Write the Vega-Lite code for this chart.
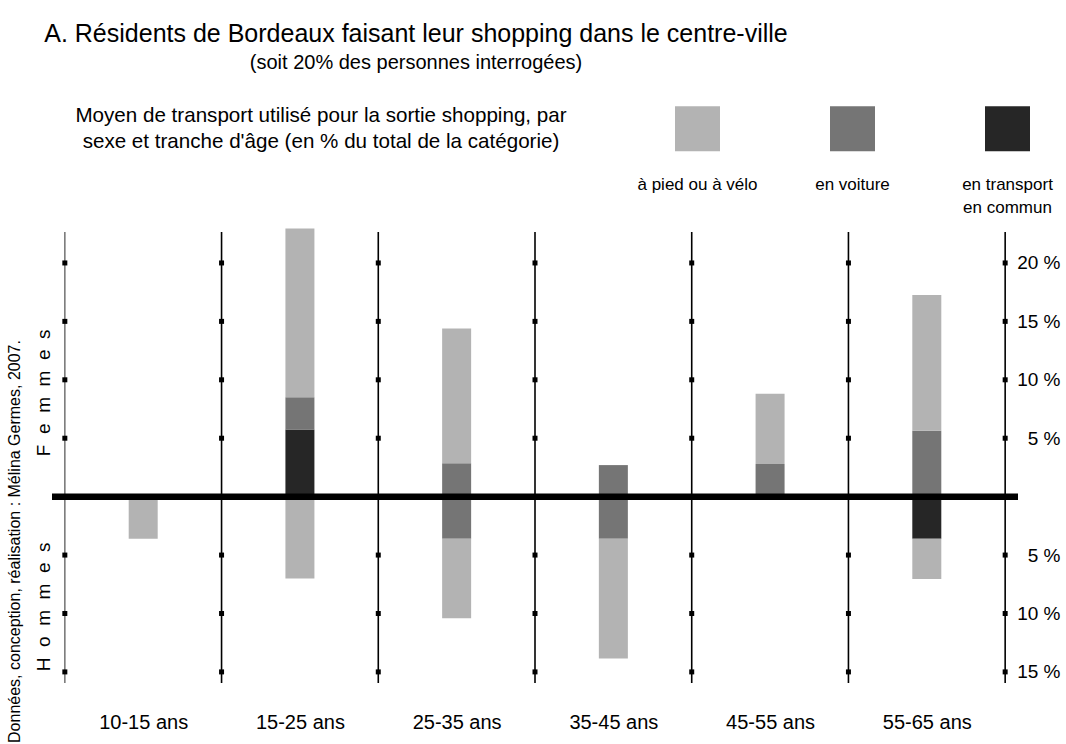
{
  "$schema": "https://vega.github.io/schema/vega-lite/v6.json",
  "width": 966,
  "height": 451,
  "autosize": {"type": "none"},
  "padding": {"left": 52, "top": 232, "right": 48, "bottom": 61},
  "background": "white",
  "config": {
    "font": "Liberation Sans",
    "view": {"stroke": null},
    "axis": {"labelColor": "black", "titleColor": "black", "labelFont": "Liberation Sans", "titleFont": "Liberation Sans"}
  },
  "title": {
    "text": "A. Résidents de Bordeaux faisant leur shopping dans le centre-ville",
    "subtitle": "(soit 20% des personnes interrogées)",
    "anchor": "middle",
    "frame": "group",
    "dx": -119,
    "offset": 33,
    "fontSize": 25,
    "fontWeight": "normal",
    "subtitleFontSize": 20,
    "subtitlePadding": 6,
    "color": "black",
    "subtitleColor": "black",
    "font": "Liberation Sans",
    "subtitleFont": "Liberation Sans"
  },
  "resolve": {"axis": {"x": "independent", "y": "independent"}},
  "datasets": {
    "bars": [
      {"age": "10-15 ans", "idx": 0, "sexe": "Hommes", "mode": "à pied ou à vélo", "pct": 3.6},
      {"age": "15-25 ans", "idx": 1, "sexe": "Femmes", "mode": "en transport en commun", "pct": 5.75},
      {"age": "15-25 ans", "idx": 1, "sexe": "Femmes", "mode": "en voiture", "pct": 2.75},
      {"age": "15-25 ans", "idx": 1, "sexe": "Femmes", "mode": "à pied ou à vélo", "pct": 14.45},
      {"age": "15-25 ans", "idx": 1, "sexe": "Hommes", "mode": "à pied ou à vélo", "pct": 7.0},
      {"age": "25-35 ans", "idx": 2, "sexe": "Femmes", "mode": "en voiture", "pct": 2.85},
      {"age": "25-35 ans", "idx": 2, "sexe": "Femmes", "mode": "à pied ou à vélo", "pct": 11.55},
      {"age": "25-35 ans", "idx": 2, "sexe": "Hommes", "mode": "en voiture", "pct": 3.6},
      {"age": "25-35 ans", "idx": 2, "sexe": "Hommes", "mode": "à pied ou à vélo", "pct": 6.8},
      {"age": "35-45 ans", "idx": 3, "sexe": "Femmes", "mode": "en voiture", "pct": 2.7},
      {"age": "35-45 ans", "idx": 3, "sexe": "Hommes", "mode": "en voiture", "pct": 3.6},
      {"age": "35-45 ans", "idx": 3, "sexe": "Hommes", "mode": "à pied ou à vélo", "pct": 10.25},
      {"age": "45-55 ans", "idx": 4, "sexe": "Femmes", "mode": "en voiture", "pct": 2.8},
      {"age": "45-55 ans", "idx": 4, "sexe": "Femmes", "mode": "à pied ou à vélo", "pct": 6.0},
      {"age": "55-65 ans", "idx": 5, "sexe": "Femmes", "mode": "en voiture", "pct": 5.65},
      {"age": "55-65 ans", "idx": 5, "sexe": "Femmes", "mode": "à pied ou à vélo", "pct": 11.6},
      {"age": "55-65 ans", "idx": 5, "sexe": "Hommes", "mode": "en transport en commun", "pct": 3.6},
      {"age": "55-65 ans", "idx": 5, "sexe": "Hommes", "mode": "à pied ou à vélo", "pct": 3.45}
    ],
    "lines": [{"b": 0}, {"b": 1}, {"b": 2}, {"b": 3}, {"b": 4}, {"b": 5}, {"b": 6}],
    "ticks": [
      {"level": 20, "b": [0, 1, 2, 3, 4, 5, 6]},
      {"level": 15, "b": [0, 1, 2, 3, 4, 5, 6]},
      {"level": 10, "b": [0, 1, 2, 3, 4, 5, 6]},
      {"level": 5, "b": [0, 1, 2, 3, 4, 5, 6]},
      {"level": -5, "b": [0, 1, 2, 3, 4, 5, 6]},
      {"level": -10, "b": [0, 1, 2, 3, 4, 5, 6]},
      {"level": -15, "b": [0, 1, 2, 3, 4, 5, 6]}
    ]
  },
  "layer": [
    {
      "data": {"name": "bars"},
      "transform": [
        {"calculate": "datum.idx + 0.5", "as": "pos"},
        {"calculate": "datum.sexe == 'Hommes' ? -datum.pct : datum.pct", "as": "val"},
        {"calculate": "indexof(['en transport en commun', 'en voiture', 'à pied ou à vélo'], datum.mode)", "as": "ord"}
      ],
      "mark": {"type": "bar", "width": 29},
      "encoding": {
        "x": {
          "field": "pos", "type": "quantitative",
          "scale": {"domain": [-0.05, 6.05], "nice": false, "zero": false},
          "axis": {
            "values": [0.5, 1.5, 2.5, 3.5, 4.5, 5.5],
            "labelExpr": "['10-15 ans', '15-25 ans', '25-35 ans', '35-45 ans', '45-55 ans', '55-65 ans'][floor(datum.value)]",
            "domain": false,
            "ticks": false,
            "tickSize": 0,
            "grid": false,
            "labelFontSize": 20,
            "labelPadding": 29,
            "labelFlush": false,
            "labelOverlap": false,
            "title": null
          }
        },
        "y": {
          "field": "val", "type": "quantitative", "stack": "zero",
          "scale": {"domain": [-15.95, 22.65], "nice": false},
          "axis": {
            "orient": "right",
            "values": [20, 15, 10, 5, -5, -10, -15],
            "labelExpr": "abs(datum.value) + ' %'",
            "domain": false,
            "ticks": false,
            "tickSize": 0,
            "grid": false,
            "labelFontSize": 19,
            "labelAlign": "right",
            "labelPadding": 42,
            "labelOverlap": false,
            "labelFlush": false,
            "title": null
          }
        },
        "order": {"field": "ord", "type": "quantitative"},
        "color": {
          "field": "mode", "type": "nominal",
          "scale": {"domain": ["à pied ou à vélo", "en voiture", "en transport en commun"], "range": ["#b3b3b3", "#757575", "#262626"]},
          "legend": {
            "orient": "none",
            "legendX": 23,
            "legendY": -126,
            "direction": "horizontal",
            "gridAlign": "all",
            "title": ["Moyen de transport utilisé pour la sortie shopping, par", "sexe et tranche d'âge (en % du total de la catégorie)"],
            "titleOrient": "left",
            "titleAnchor": "start",
            "titleBaseline": "top",
            "titleAlign": "center",
            "titleFontSize": 20.6,
            "titleFontWeight": "normal",
            "titleLineHeight": 26,
            "titlePadding": -138,
            "titleColor": "black",
            "titleLimit": 800,
            "symbolType": "square",
            "symbolSize": 2025,
            "symbolStrokeWidth": 0,
            "symbolOpacity": 1,
            "labelFontSize": 17,
            "labelColor": "black",
            "labelOffset": 0,
            "labelLimit": 300,
            "columnPadding": 49,
            "padding": 0,
            "labelExpr": "datum.label == 'en transport en commun' ? ['en transport', 'en commun'] : [datum.label, ' ']",
            "encode": {
              "labels": {
                "update": {
                  "align": {"value": "center"},
                  "baseline": {"value": "top"},
                  "dx": {"value": -22.5},
                  "dy": {"value": 48},
                  "lineHeight": {"value": 23}
                }
              }
            }
          }
        }
      }
    },
    {
      "data": {"name": "lines"},
      "mark": {"type": "rule", "strokeWidth": 1.6},
      "encoding": {
        "x": {"field": "b", "type": "quantitative", "scale": {"domain": [-0.05, 6.05], "nice": false, "zero": false}, "axis": null},
        "color": {"condition": {"test": "datum.b == 0", "value": "#7a7a7a"}, "value": "black"}
      }
    },
    {
      "data": {"name": "ticks"},
      "transform": [{"flatten": ["b"]}],
      "mark": {"type": "point", "shape": "square", "filled": true, "size": 25, "color": "black", "opacity": 1},
      "encoding": {
        "x": {"field": "b", "type": "quantitative", "scale": {"domain": [-0.05, 6.05], "nice": false, "zero": false}, "axis": null},
        "y": {
          "field": "level", "type": "quantitative",
          "scale": {"domain": [-15.95, 22.65], "nice": false},
          "axis": {
            "orient": "left",
            "values": [8.93, -9.39],
            "labelExpr": "datum.value > 0 ? 'F\u00a0\u00a0e\u00a0\u00a0m\u00a0\u00a0m\u00a0\u00a0e\u00a0\u00a0s' : 'H\u00a0\u00a0o\u00a0\u00a0m\u00a0\u00a0m\u00a0\u00a0e\u00a0\u00a0s'",
            "labelAngle": 270,
            "labelAlign": "center",
            "labelBaseline": "bottom",
            "labelPadding": -1,
            "labelFontSize": 19,
            "labelOverlap": false,
            "labelFlush": false,
            "domain": false,
            "ticks": false,
            "tickSize": 0,
            "grid": false,
            "title": "Données, conception, réalisation : Mélina Germes, 2007.",
            "titleFontSize": 16,
            "titleFontWeight": "normal",
            "titleAngle": 270,
            "titleX": -38,
            "titleY": 309,
            "titleAlign": "center",
            "titleBaseline": "middle"
          }
        }
      }
    },
    {
      "data": {"values": [{}]},
      "mark": {"type": "rule", "strokeWidth": 6.5, "color": "black"},
      "encoding": {"y": {"datum": 0, "type": "quantitative", "scale": {"domain": [-15.95, 22.65], "nice": false}, "axis": null}}
    }
  ]
}
